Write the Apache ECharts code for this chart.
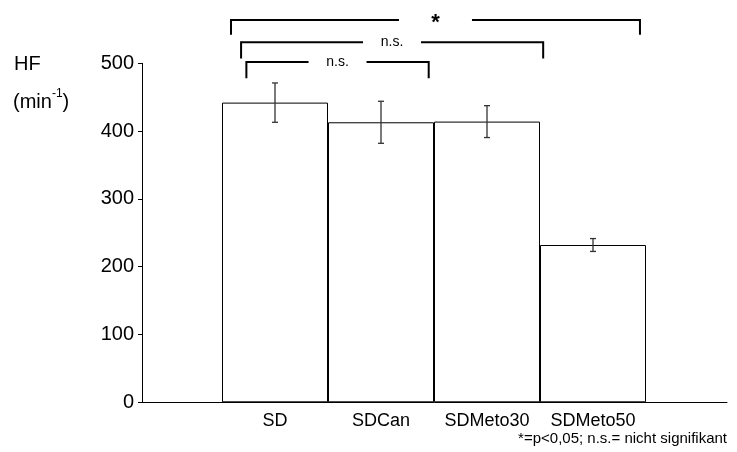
<!DOCTYPE html>
<html>
<head>
<meta charset="utf-8">
<script src="https://cdn.jsdelivr.net/npm/echarts@6/dist/echarts.min.js"></script>
<style>html,body{margin:0;padding:0;background:#fff}#c{width:737px;height:452px}</style>
</head>
<body>
<div id="c"></div>
<script>
// ---- data ----
const categories = ['SD', 'SDCan', 'SDMeto30', 'SDMeto50'];
const means = [442, 413, 414, 232];
const errors = [29, 31, 23.5, 9.5];
const yMin = 0, yMax = 500, yStep = 100;

// significance brackets (annotation)
const bracketFrom = [0, 0, 0];
const bracketTo = [3, 2, 1];
const bracketLevels = [564, 531, 502];
const bracketDrops = [542, 507, 478];
const bracketLabels = ['*', 'n.s.', 'n.s.'];
// layout of brackets (fractions of a category width)
const bracketLeftOff = [-0.415, -0.32, -0.27];
const bracketRightOff = [0.443, 0.53, 0.45];
const bracketGapCenter = [1.514, 1.104, 0.59];
const bracketGapWidth = [73, 58, 58];

const FONT = 'Liberation Sans, Arial, sans-serif';
const chart = echarts.init(document.getElementById('c'), null, {renderer: 'canvas'});

const option = {
  backgroundColor: '#fff',
  animation: false,
  grid: [
    {left: 142, right: 10, top: 63.3, bottom: 49.7},
    {left: 222, right: 91, top: 63.3, bottom: 49.7}
  ],
  xAxis: [
    {gridIndex: 0, type: 'value', min: 0, max: 1,
     axisLine: {show: true, lineStyle: {color: '#000', width: 1}},
     axisTick: {show: false}, axisLabel: {show: false}, splitLine: {show: false}},
    {gridIndex: 1, type: 'category', data: categories, boundaryGap: true,
     axisLine: {show: false}, axisTick: {show: false}, splitLine: {show: false},
     axisLabel: {color: '#000', fontSize: 18, fontFamily: FONT, margin: 10, interval: 0}}
  ],
  yAxis: [
    {gridIndex: 0, type: 'value', min: yMin, max: yMax, interval: yStep,
     axisLine: {show: true, lineStyle: {color: '#000', width: 1}},
     axisTick: {show: true, length: 4, lineStyle: {color: '#000'}},
     splitLine: {show: false},
     axisLabel: {color: '#000', fontSize: 20, fontFamily: FONT, margin: 8}},
    {gridIndex: 1, type: 'value', min: yMin, max: yMax, show: false, splitLine: {show: false}}
  ],
  series: [
    {
      type: 'bar', xAxisIndex: 1, yAxisIndex: 1,
      data: means, barCategoryGap: '0%',
      itemStyle: {color: '#fff', borderColor: '#000', borderWidth: 1}
    },
    {
      type: 'custom', xAxisIndex: 1, yAxisIndex: 1, z: 5,
      data: means.map((m, i) => [i, m - errors[i], m + errors[i]]),
      encode: {x: 0, y: [1, 2]},
      renderItem: function (params, api) {
        const lo = api.coord([api.value(0), api.value(1)]);
        const hi = api.coord([api.value(0), api.value(2)]);
        const hw = 3;
        const st = {stroke: '#333', lineWidth: 1.3};
        return {type: 'group', children: [
          {type: 'line', shape: {x1: lo[0], y1: lo[1], x2: hi[0], y2: hi[1]}, style: st},
          {type: 'line', shape: {x1: lo[0] - hw, y1: lo[1], x2: lo[0] + hw, y2: lo[1]}, style: st},
          {type: 'line', shape: {x1: hi[0] - hw, y1: hi[1], x2: hi[0] + hw, y2: hi[1]}, style: st}
        ]};
      }
    },
    {
      type: 'custom', xAxisIndex: 1, yAxisIndex: 1, z: 6, clip: false,
      data: bracketLevels.map((v, i) => [bracketFrom[i], v, bracketDrops[i], bracketTo[i]]),
      encode: {x: 0, y: 1},
      renderItem: function (params, api) {
        const i = params.dataIndex;
        const w = api.size([1, 0])[0];
        const pFrom = api.coord([api.value(0), api.value(1)]);
        const pTo = api.coord([api.value(3), api.value(1)]);
        const pDrop = api.coord([api.value(0), api.value(2)]);
        const y = pFrom[1], yd = pDrop[1];
        const x1 = pFrom[0] + bracketLeftOff[i] * w;
        const x2 = pTo[0] + bracketRightOff[i] * w;
        const gc = pFrom[0] + bracketGapCenter[i] * w;
        const gw = bracketGapWidth[i] / 2;
        const st = {stroke: '#000', lineWidth: 2, fill: null, lineJoin: 'miter', lineCap: 'butt'};
        const isStar = bracketLabels[i] === '*';
        return {type: 'group', children: [
          {type: 'polyline', shape: {points: [[x1, yd], [x1, y], [gc - gw, y]]}, style: st},
          {type: 'polyline', shape: {points: [[gc + gw, y], [x2, y], [x2, yd]]}, style: st},
          {type: 'text', x: gc, y: isStar ? y + 3 : y,
           style: {text: bracketLabels[i], fill: '#000', align: 'center', verticalAlign: 'middle',
                   fontFamily: FONT, fontSize: isStar ? 22 : 14, fontWeight: isStar ? 'bold' : 'normal'}}
        ]};
      }
    }
  ],
  graphic: [
    {type: 'text', left: 14, top: 54,
     style: {text: 'HF', fill: '#000', fontSize: 20, fontFamily: FONT}},
    {type: 'text', left: 13, top: 88,
     style: {text: '{a|(min}{b|-1}{a|)}', fill: '#000', fontFamily: FONT,
       rich: {a: {fontSize: 20, fontFamily: FONT, lineHeight: 24, verticalAlign: 'bottom'},
              b: {fontSize: 12, fontFamily: FONT, lineHeight: 24, verticalAlign: 'top'}}}},
    {type: 'text', right: 10, top: 431,
     style: {text: '*=p<0,05; n.s.= nicht signifikant', fill: '#000', fontSize: 15, fontFamily: FONT}}
  ]
};
chart.setOption(option);
</script>
</body>
</html>
